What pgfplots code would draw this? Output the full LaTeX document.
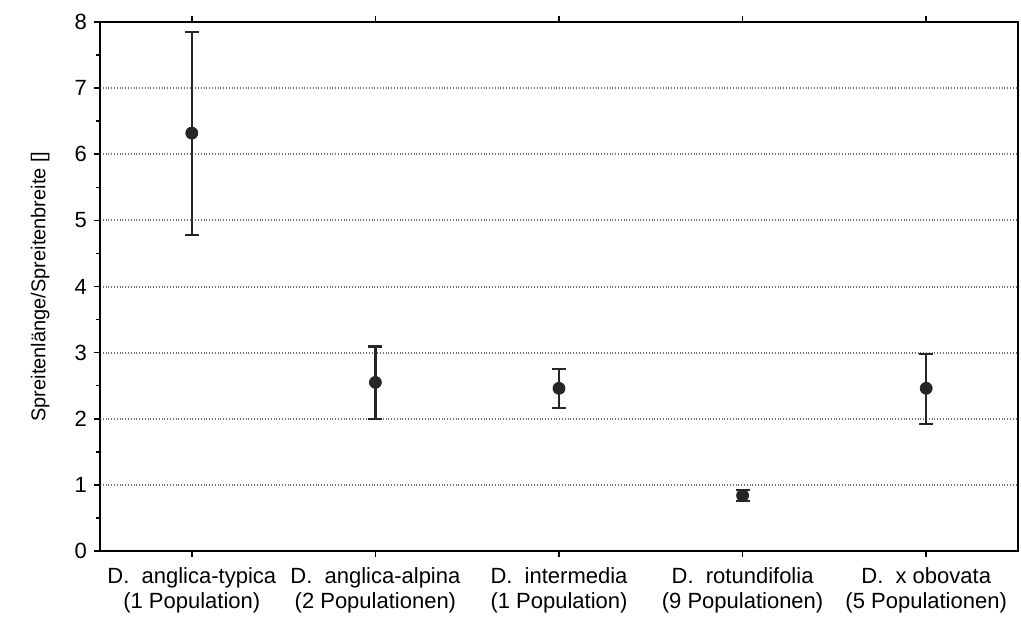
\documentclass[border=0pt]{standalone}
\usepackage{fontspec}
\setmainfont{Liberation Sans}
\usepackage{pgfplots}
\pgfplotsset{compat=1.18}

\begin{document}
\begin{tikzpicture}
\begin{axis}[
    scale only axis,
    width=459pt, height=264.5pt,
    xmin=-0.5, xmax=4.5,
    ymin=0, ymax=8,
    xtick={0,1,2,3,4},
    xticklabels={{D.\ \ anglica-typica\\(1 Population)},
                 {D.\ \ anglica-alpina\\(2 Populationen)},
                 {D.\ \ intermedia\\(1 Population)},
                 {D.\ \ rotundifolia\\(9 Populationen)},
                 {D.\ \ x obovata\\(5 Populationen)}},
    xticklabel style={align=center, font=\fontsize{11}{12.5}\selectfont, yshift=-1.5pt},
    ytick={0,...,8},
    minor ytick={0.5,1.5,...,7.5},
    yticklabel style={font=\fontsize{11}{13}\selectfont},
    /pgf/number format/assume math mode=true,
    xtick pos=both, ytick pos=left,
    tick align=outside,
    major tick length=3pt, minor tick length=2pt,
    every tick/.style={black, line width=0.8pt},
    axis line style={line width=1.1pt},
    ymajorgrids,
    major grid style={black!55, densely dotted, line width=1pt},
    ylabel={Spreitenlänge/Spreitenbreite []},
    ylabel style={at={(axis description cs:-0.065,0.5)}, anchor=center,
                  font=\fontsize{10}{12}\selectfont},
]
\addplot[black!85, only marks, mark=*, mark size=3pt,
    error bars/.cd, y dir=both, y explicit,
    error mark=-, error mark options={rotate=90, mark size=3.5pt, line width=1.2pt, black!85},
    error bar style={line width=1.2pt, black!85}]
coordinates {
    (0,6.32) += (0,1.53) -= (0,1.54)
    (1,2.55) += (0,0.54) -= (0,0.55)
    (2,2.46) += (0,0.29) -= (0,0.30)
    (3,0.84) += (0,0.08) -= (0,0.08)
    (4,2.46) += (0,0.52) -= (0,0.54)
};
\end{axis}
\path (-50pt,-32.5pt) rectangle (460.5pt,275.5pt);
\end{tikzpicture}
\end{document}
